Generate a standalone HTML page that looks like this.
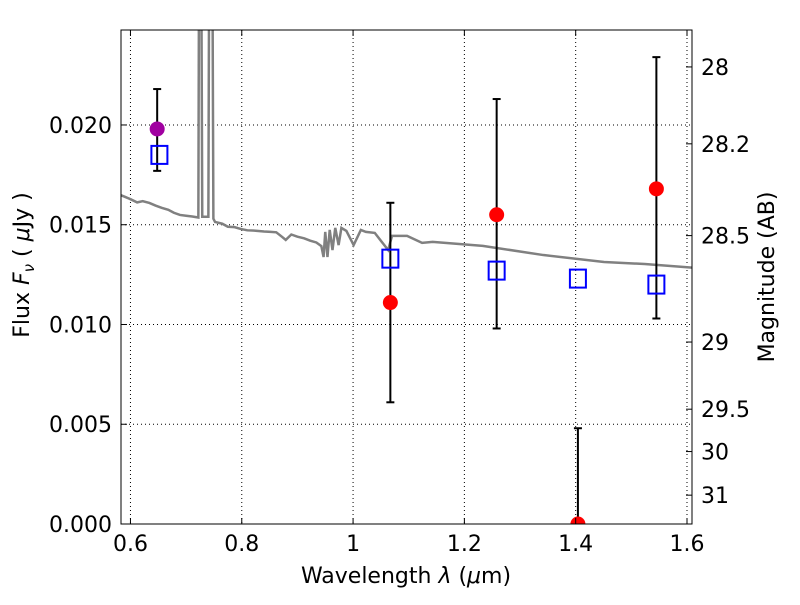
<!DOCTYPE html>
<html><head><meta charset="utf-8"><style>
body{margin:0;background:#fff}
svg text{font-family:"DejaVu Sans","Liberation Sans",sans-serif;fill:#000}
</style></head><body>
<svg id="c" width="800" height="600" xmlns="http://www.w3.org/2000/svg">
<rect width="800" height="600" fill="#fff"/>
<g id="grid"></g>
<g id="spec"></g>
<g id="marks"></g>
<rect x="121" y="30" width="571" height="494" fill="none" stroke="#000" stroke-width="1"/>
<g id="axes"></g>
<text x="406" y="583" font-size="22" text-anchor="middle">Wavelength  <tspan font-style="italic">λ</tspan> (<tspan font-style="italic">μ</tspan>m)</text>
<text transform="translate(29,265) rotate(-90)" font-size="22" text-anchor="middle">Flux  <tspan font-style="italic">F</tspan><tspan font-style="italic" font-size="15" dy="5">ν</tspan><tspan dy="-5">  (  </tspan><tspan font-style="italic">μ</tspan>Jy )</text>
<text transform="translate(774,277) rotate(-90)" font-size="22" text-anchor="middle">Magnitude (AB)</text>
</svg>
<script>
const xTicks=[0.6,0.8,1.0,1.2,1.4,1.6];
const xTickLabels=["0.6","0.8","1","1.2","1.4","1.6"];
const yTicks=[0,0.005,0.010,0.015,0.020];
const yTickLabels=["0.000","0.005","0.010","0.015","0.020"];
const magTicks=[28,28.2,28.5,29,29.5,30,31];
const specLam=[0.582,0.590,0.600,0.612,0.622,0.634,0.645,0.656,0.668,0.678,0.689,0.700,0.711,0.722,0.7234,0.727,0.729,0.740,0.7416,0.747,0.749,0.752,0.765,0.775,0.787,0.798,0.810,0.825,0.840,0.852,0.862,0.872,0.879,0.889,0.900,0.912,0.923,0.934,0.943,0.947,0.950,0.954,0.958,0.963,0.968,0.974,0.979,0.988,1.001,1.014,1.023,1.039,1.063,1.070,1.097,1.124,1.143,1.233,1.342,1.451,1.524,1.618];
const specFlux=[0.01649,0.01640,0.01628,0.01612,0.01618,0.01609,0.01596,0.01585,0.01575,0.01560,0.01549,0.01545,0.01541,0.01536,0.03,0.03,0.0154,0.0154,0.03,0.03,0.0153,0.01514,0.01505,0.01490,0.01488,0.01479,0.01472,0.01470,0.01466,0.01464,0.01462,0.01440,0.01424,0.01451,0.01440,0.01432,0.01420,0.01411,0.01393,0.01338,0.01464,0.01338,0.01474,0.01373,0.01484,0.01398,0.01484,0.01469,0.01398,0.01474,0.01464,0.01459,0.01373,0.01444,0.01444,0.01409,0.01414,0.01394,0.01348,0.01313,0.01303,0.01283];
const modelLam=[0.652,1.067,1.258,1.404,1.545];
const modelFlux=[0.0185,0.0133,0.0127,0.0123,0.0120];
const obsLam=[1.067,1.258,1.404,1.545];
const obsFlux=[0.0111,0.0155,0.0,0.0168];
const obsLo=[0.0061,0.0098,-0.001,0.0103];
const obsHi=[0.0161,0.0213,0.0048,0.0234];
const refLam=[0.648];
const refFlux=[0.0198];
const refLo=[0.0177];
const refHi=[0.0218];
const X0=0.583,X1=1.609,Y0=0,Y1=0.02476,L=121,R=692,T=30,B=524;
const sx=v=>L+(v-X0)/(X1-X0)*(R-L);
const sy=v=>B-(v-Y0)/(Y1-Y0)*(B-T);
const NS="http://www.w3.org/2000/svg";
function mk(p,tag,a){const e=document.createElementNS(NS,tag);for(const k in a)e.setAttribute(k,a[k]);p.appendChild(e);return e;}
const grid=document.getElementById('grid'),axes=document.getElementById('axes');
xTicks.forEach((t,i)=>{const x=sx(t);
 const g=mk(grid,'line',{x1:x,x2:x,y1:T,y2:B,stroke:'#000','stroke-dasharray':'1,3','stroke-width':1});
 
 mk(axes,'line',{x1:x,x2:x,y1:B,y2:B-6,stroke:'#000'});mk(axes,'line',{x1:x,x2:x,y1:T,y2:T+6,stroke:'#000'});
 const tx=mk(axes,'text',{x:x,y:B+27,'font-size':22,'text-anchor':'middle'});tx.textContent=xTickLabels[i];
 });
yTicks.forEach((t,i)=>{const y=sy(t);
 const g=mk(grid,'line',{x1:L,x2:R,y1:y,y2:y,stroke:'#000','stroke-dasharray':'1,3','stroke-width':1});
 
 mk(axes,'line',{x1:L,x2:L+6,y1:y,y2:y,stroke:'#000'});
 const tx=mk(axes,'text',{x:L-9,y:y+8,'font-size':22,'text-anchor':'end'});tx.textContent=yTickLabels[i];
 });
magTicks.forEach(m=>{const f=Math.pow(10,(23.9-m)/2.5);const y=sy(f);
 mk(axes,'line',{x1:R,x2:R-6,y1:y,y2:y,stroke:'#000'});
 const tx=mk(axes,'text',{x:R+9,y:y+8,'font-size':22});tx.textContent=String(m);
 });
const spec=document.getElementById('spec');
mk(spec,'clipPath',{id:'cp'});mk(document.getElementById('cp'),'rect',{x:L,y:T,width:R-L,height:B-T});
const pl=mk(spec,'polyline',{points:specLam.map((l,i)=>sx(l)+','+sy(specFlux[i])).join(' '),fill:'none',stroke:'#808080','stroke-width':2.5,'clip-path':'url(#cp)'});

const marks=document.getElementById('marks');
function err(x,lo,hi){const a=sx(x),y1=sy(lo),y2=sy(hi);
 mk(marks,'line',{x1:a,x2:a,y1:Math.min(y1,B),y2:y2,stroke:'#000','stroke-width':2});
 mk(marks,'line',{x1:a-4,x2:a+4,y1:y2,y2:y2,stroke:'#000','stroke-width':2});
 if(y1<=B)mk(marks,'line',{x1:a-4,x2:a+4,y1:y1,y2:y1,stroke:'#000','stroke-width':2});}
refLam.forEach((l,i)=>err(l,refLo[i],refHi[i]));
obsLam.forEach((l,i)=>err(l,obsLo[i],obsHi[i]));
modelLam.forEach((l,i)=>{const r=mk(marks,'rect',{x:sx(l)-8,y:sy(modelFlux[i])-9,width:16,height:18,fill:'none',stroke:'#0000ff','stroke-width':2});
 });
refLam.forEach((l,i)=>{const c=mk(marks,'circle',{cx:sx(l),cy:sy(refFlux[i]),r:7.5,fill:'#a000a0'});
 });
obsLam.forEach((l,i)=>{const c=mk(marks,'circle',{cx:sx(l),cy:sy(obsFlux[i]),r:7.5,fill:'#ff0000','clip-path':'url(#cp)'});
 });
</script>
</body></html>
